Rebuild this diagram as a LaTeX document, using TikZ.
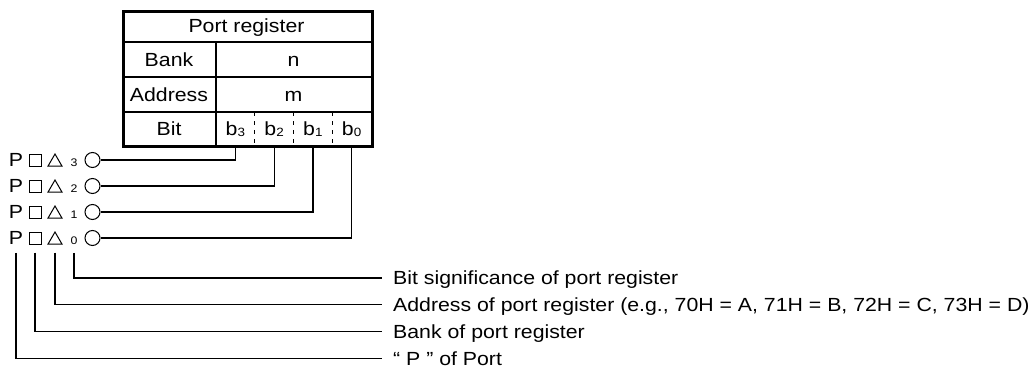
\documentclass[tikz,border=0pt]{standalone}
\usepackage{fontspec}
\setmainfont{Liberation Sans}[FakeStretch=1.12]
\usetikzlibrary{positioning,shapes.geometric}
\newcommand{\bitsub}[1]{b\raisebox{-1.5pt}{\fontsize{12}{13}\selectfont #1}}

\begin{document}
\begin{tikzpicture}[x=1pt, y=-1pt,
        font=\fontsize{19}{22}\selectfont,
        txt/.style={inner sep=0pt, text height=13.5pt, text depth=0pt},
        cell/.style={txt, minimum height=33pt},
        frame/.style={draw, line width=2.6pt},
        thin/.style={line width=1.1pt},
        wire/.style={line width=1.2pt},
        sqbox/.style={draw, line width=1pt, minimum size=12pt, inner sep=0pt},
        tri/.style={draw, regular polygon, regular polygon sides=3, line width=1pt, minimum size=16pt, inner sep=0pt},
        pin/.style={draw, circle, line width=1pt, minimum size=15pt, inner sep=0pt},
        note/.style={txt, anchor=west, inner xsep=11pt}
    ]
        \useasboundingbox (0,0) rectangle (1034,369);

        % register table
        \node[frame, anchor=north west, minimum width=249pt, minimum height=135pt, inner sep=0pt] (reg) at (122,10) {};
        \draw[line width=2.2pt] (122,42) -- (371,42);
        \draw[thin] (122,77) -- (371,77);
        \draw[thin] (122,112) -- (371,112);
        \draw[thin] (216,42) -- (216,145);
        \foreach \x in {254.75,293.5,332.25}
            \draw[thin, dash pattern=on 4pt off 5pt] (\x,112) -- (\x,145);

        \node[txt] (head) at (246.5,26) {Port register};
        \node[cell] (bank) at (169,59.5) {Bank};
        \node[cell] (bankval) at (293.5,59.5) {n};
        \node[cell] (addr) at (169,94.5) {Address};
        \node[cell] (addrval) at (293.5,94.5) {m};
        \node[cell] (bit) at (169,128.5) {Bit};
        \node[cell, minimum width=38pt] (b3) at (235.4,128.5) {\bitsub{3}};
        \node[cell, minimum width=38pt] (b2) at (274.1,128.5) {\bitsub{2}};
        \node[cell, minimum width=38pt] (b1) at (312.9,128.5) {\bitsub{1}};
        \node[cell, minimum width=38pt] (b0) at (351.6,128.5) {\bitsub{0}};

        % port pins
        \foreach \i/\y in {3/160,2/186,1/212,0/238} {
            \node[txt] (pP\i) at (16,\y) {P};
            \node[sqbox] (pB\i) at (35,\y) {};
            \node[tri] (pA\i) at (55,\y+2) {};
            \node[anchor=base, inner sep=0pt, font=\fontsize{11}{13}\selectfont] (pN\i) at (74,\y+6.5) {\i};
            \node[pin] (pin\i) at (92.5,\y) {};
            \draw[wire] (b\i.south) |- (pin\i.east);
        }

        % legend
        \node[note] (lBit) at (382,278) {Bit significance of port register};
        \node[note] (lAddr) at (382,304.5) {Address of port register (e.g., 70H = A, 71H = B, 72H = C, 73H = D)};
        \node[note] (lBank) at (382,331.5) {Bank of port register};
        \node[note] (lP) at (382,358.5) {“ P ” of Port};

        \draw[wire] ([yshift=-8pt]pN0.south) |- (lBit.west);
        \draw[wire] ([yshift=-8pt]pA0.south) |- (lAddr.west);
        \draw[wire] ([yshift=-8pt]pB0.south) |- (lBank.west);
        \draw[wire] ([yshift=-8pt]pP0.south) |- (lP.west);
\end{tikzpicture}
\end{document}
